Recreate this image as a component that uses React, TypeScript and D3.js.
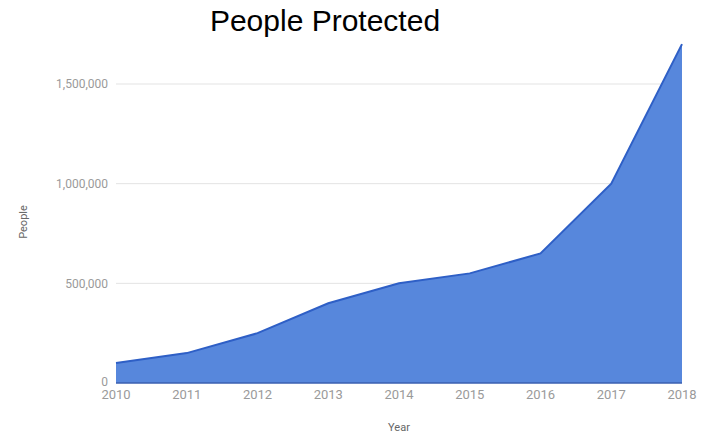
import React from "react";
import * as d3 from "d3";

const years = [2010, 2011, 2012, 2013, 2014, 2015, 2016, 2017, 2018];
const people = [100000, 150000, 250000, 400000, 500000, 550000, 650000, 1000000, 1700000];
const yTicks = [0, 500000, 1000000, 1500000];

export default function App() {
  const W = 707, H = 435;
  const left = 116, right = 682, top = 84, bottom = 383;
  const x = d3.scaleLinear().domain([2010, 2018]).range([left, right]);
  const y = d3.scaleLinear().domain([0, 1500000]).range([bottom, top]);
  const data = years.map((yr, i) => ({ yr, v: people[i] }));
  const area = d3.area<{ yr: number; v: number }>().x(d => x(d.yr)).y0(y(0)).y1(d => y(d.v))(data) || "";
  const line = d3.line<{ yr: number; v: number }>().x(d => x(d.yr)).y(d => y(d.v))(data) || "";
  const fmt = d3.format(",");
  return (
    <svg width={W} height={H} style={{ position: "absolute", left: 0, top: 0, background: "#fff" }}>
      <text x={325} y={31} textAnchor="middle" fontFamily="Liberation Sans, Arial" fontSize={30} fill="#000">People Protected</text>
      {yTicks.map(t => (
        <g key={t}>
          {t > 0 && <line x1={left} x2={right} y1={y(t)} y2={y(t)} stroke="#e3e3e3" strokeWidth={1} />}
          <text x={108} y={y(t) - (t === 0 ? 1 : 0)} dy="0.35em" textAnchor="end" fontFamily="Roboto" fontSize={12} fill="#9a9a9a">{fmt(t)}</text>
        </g>
      ))}
      <path d={area} fill="#5787dc" />
      <path d={line} fill="none" stroke="#2e5fc6" strokeWidth={2} />
      <line x1={left} x2={right} y1={y(0)} y2={y(0)} stroke="#3a5fb0" strokeWidth={1.5} />
      {years.map(yr => (
        <text key={yr} x={x(yr)} y={399} textAnchor="middle" fontFamily="Roboto" fontSize={13} fill="#9a9a9a">{yr}</text>
      ))}
      <text x={399} y={431} textAnchor="middle" fontFamily="Roboto" fontSize={11} fill="#666">Year</text>
      <text transform={`translate(27,222) rotate(-90)`} textAnchor="middle" fontFamily="Roboto" fontSize={11} fill="#666">People</text>
    </svg>
  );
}
